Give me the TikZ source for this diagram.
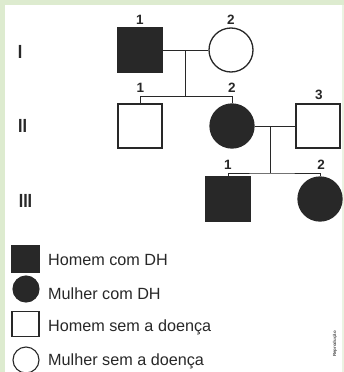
\documentclass[tikz,border=0pt]{standalone}
\usepackage{fontspec}
\setmainfont{Liberation Sans}
\definecolor{frame}{RGB}{221,235,207}
\definecolor{ink}{RGB}{40,40,40}
\definecolor{txt}{RGB}{40,40,40}
\begin{document}
\begin{tikzpicture}[x=1pt,y=-1pt,
  male/.style={rectangle,draw=ink,line width=1.3pt,minimum size=44pt,inner sep=0pt},
  female/.style={circle,draw=ink,line width=1.3pt,minimum size=44pt,inner sep=0pt},
  affected/.style={fill=ink},
  lmale/.style={rectangle,draw=ink,line width=1.1pt,minimum width=27pt,minimum height=26pt,inner sep=0pt},
  lfemale/.style={circle,draw=ink,line width=1.1pt,minimum size=26pt,inner sep=0pt},
  link/.style={draw=ink,line width=0.9pt},
  num/.style={text=txt,font=\fontsize{13.5}{14}\selectfont\bfseries,inner sep=0pt},
  gen/.style={text=txt,font=\fontsize{19}{19}\selectfont\bfseries,inner sep=0pt,xscale=0.85},
  legtext/.style={text=txt,font=\fontsize{16.2}{16}\selectfont,inner sep=0pt,anchor=base west}]
\useasboundingbox (0,0) rectangle (344,372);
% background with a light green frame along the top and left edges
\fill[white] (0,0) rectangle (344,372);
\fill[frame] (0,0) rectangle (344,5);
\fill[frame] (0,0) rectangle (5,372);
\fill[frame!60] (342,5) rectangle (344,372);

% generation numerals
\node[gen] (gI) at (20,51.5) {I};
\node[gen] (gII) at (22.5,126) {II};
\node[gen] (gIII) at (25.5,200.5) {III};

% generation I
\node[male,affected] (i1) at (140,50) {};
\node[female] (i2) at (231,50) {};
\node[num] (ni1) at (140,19.5) {1};
\node[num] (ni2) at (231,19.5) {2};

% generation II
\node[male] (ii1) at (140,126) {};
\node[female,affected] (ii2) at (232,126) {};
\node[male] (ii3) at (318,126) {};
\node[num] (nii1) at (140.5,87.5) {1};
\node[num] (nii2) at (232,87.5) {2};
\node[num] (nii3) at (319,94.5) {3};

% generation III
\node[male,affected] (iii1) at (228,199) {};
\node[female,affected] (iii2) at (320,199) {};
\node[num] (niii1) at (228,164.5) {1};
\node[num] (niii2) at (321,164.5) {2};

% mating and sibship lines
\coordinate (m1) at (185.5,50);
\coordinate (s1) at (185.5,96.7);
\draw[link] (i1.east) -- (i2.west);
\draw[link] (m1) -- (s1);
\draw[link] (ii1.north) |- (s1) -| (ii2.north);

\coordinate (m2) at (270,126);
\coordinate (s2) at (270,173);
\draw[link] (ii2.east) -- (ii3.west);
\draw[link] (m2) -- (s2);
\draw[link] (iii1.north) |- (s2) -| (iii2.north);

% key
\node[lmale,affected] (k1) at (25.5,259) {};
\node[lfemale,affected] (k2) at (26,289) {};
\node[lmale,minimum height=25pt] (k3) at (25.5,324) {};
\node[lfemale] (k4) at (26,360) {};
\node[legtext] (t1) at (48,265.7) {Homem com DH};
\node[legtext] (t2) at (48,299) {Mulher com DH};
\node[legtext] (t3) at (48,331.7) {Homem sem a doença};
\node[legtext] (t4) at (48,365) {Mulher sem a doença};

% credit line
\node[rotate=90,text=black!70,font=\fontsize{4.4}{4.4}\selectfont\bfseries,inner sep=0pt] (cr) at (335,344) {Reprodução};
\end{tikzpicture}
\end{document}
